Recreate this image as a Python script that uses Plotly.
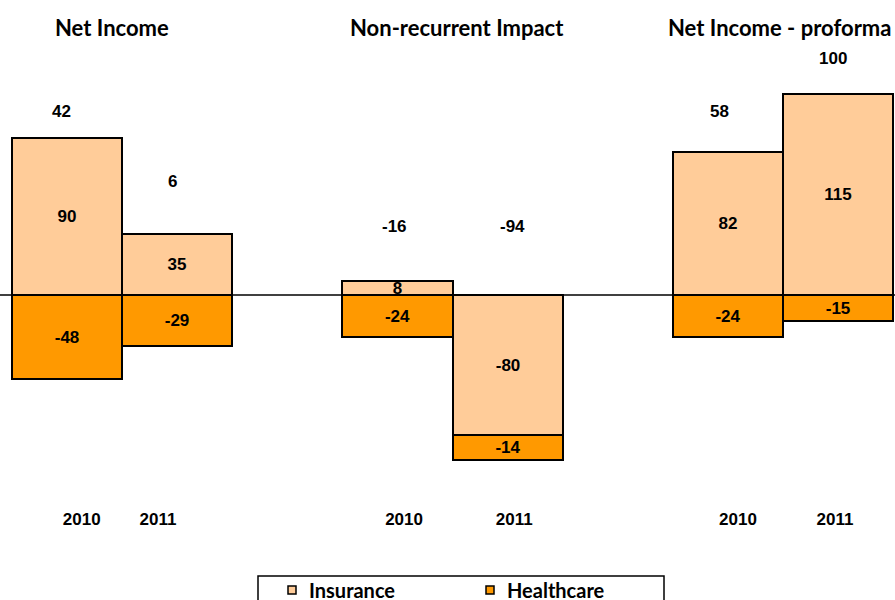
import plotly.graph_objects as go

# Bar slots: three groups of two years, with an empty slot between groups
x_pos = [0, 1, 3, 4, 6, 7]
years = ["2010", "2011", "2010", "2011", "2010", "2011"]
# year labels sit slightly off the bar centres
year_label_x = [0.133, 0.826, 3.06, 4.06, 6.092, 6.973]

insurance = [90, 35, 8, -80, 82, 115]
healthcare = [-48, -29, -24, -14, -24, -15]
totals = [42, 6, -16, -94, 58, 100]
# vertical anchor (in value units) and pixel nudge for the total labels
total_label_y = [105, 65, 39.4, 39.4, 105, 135]
total_label_dx = [-6, -5, -3, 5, -8, -5]

group_titles = ["Net Income", "Non-recurrent Impact", "Net Income - proforma"]
group_title_x = [0.41, 3.54, 6.47]

INS_COLOR = "#FFCC99"
HC_COLOR = "#FF9900"
LABEL_FONT = dict(family="Liberation Sans, Arial", size=17, color="black")
CAL_FONT = "Lato, Carlito, Calibri, sans-serif"

W, H = 895, 600
PLOT_BOTTOM = 505  # pixel row where the plotting area ends


def py(p):
    """Convert a pixel row below the plotting area into paper y."""
    return (PLOT_BOTTOM - p) / PLOT_BOTTOM


def px(p):
    return p / W


fig = go.Figure()
for name, vals, color in [("Insurance", insurance, INS_COLOR), ("Healthcare", healthcare, HC_COLOR)]:
    fig.add_trace(go.Bar(
        x=x_pos, y=vals, name=name, width=1,
        marker=dict(color=color, line=dict(color="black", width=2)),
        text=vals, texttemplate="<b>%{text}</b>", textposition="inside",
        insidetextanchor="middle", constraintext="none", textangle=0,
        textfont=LABEL_FONT, showlegend=False,
    ))

annotations = []
for xv, tv, yv, dx in zip(x_pos, totals, total_label_y, total_label_dx):
    annotations.append(dict(x=xv, y=yv, xref="x", yref="y", text=f"<b>{tv}</b>",
                            xshift=dx, showarrow=False, font=LABEL_FONT))
for title, tx in zip(group_titles, group_title_x):
    annotations.append(dict(x=tx, y=153, xref="x", yref="y", text=f"<b>{title}</b>",
                            showarrow=False, font=dict(family=CAL_FONT, size=22, color="black")))

# Legend drawn as a framed box below the axis
shapes = [
    dict(type="line", xref="paper", yref="y", x0=0, x1=1, y0=0, y1=0,
         line=dict(color="black", width=1.5), layer="above"),
    dict(type="rect", xref="paper", yref="paper", x0=px(258), x1=px(664),
         y0=py(576), y1=py(615), line=dict(color="black", width=1.5), fillcolor="white"),
]
for x0, color, label in [(288, INS_COLOR, "Insurance"), (486, HC_COLOR, "Healthcare")]:
    shapes.append(dict(type="rect", xref="paper", yref="paper", x0=px(x0), x1=px(x0 + 8),
                       y0=py(586), y1=py(594), line=dict(color="black", width=1.5),
                       fillcolor=color))
    annotations.append(dict(x=px(x0 + 19), y=py(590), xref="paper", yref="paper",
                            xanchor="left", yanchor="middle", showarrow=False,
                            text=f"<b>{label}</b>",
                            font=dict(family=CAL_FONT, size=20, color="black")))

fig.update_layout(
    width=W, height=H,
    barmode="relative", bargap=0,
    plot_bgcolor="white", paper_bgcolor="white",
    margin=dict(l=0, r=0, t=0, b=H - PLOT_BOTTOM),
    xaxis=dict(range=[-0.609, 7.518], tickvals=year_label_x,
               ticktext=[f"<b>{y}</b>" for y in years],
               tickfont=LABEL_FONT, showgrid=False, zeroline=False,
               showline=False, ticks="", ticklabelstandoff=2),
    yaxis=dict(range=[-120, 168.571], visible=False, showgrid=False, zeroline=False),
    annotations=annotations,
    shapes=shapes,
    showlegend=False,
)

fig.write_html("out.html")
